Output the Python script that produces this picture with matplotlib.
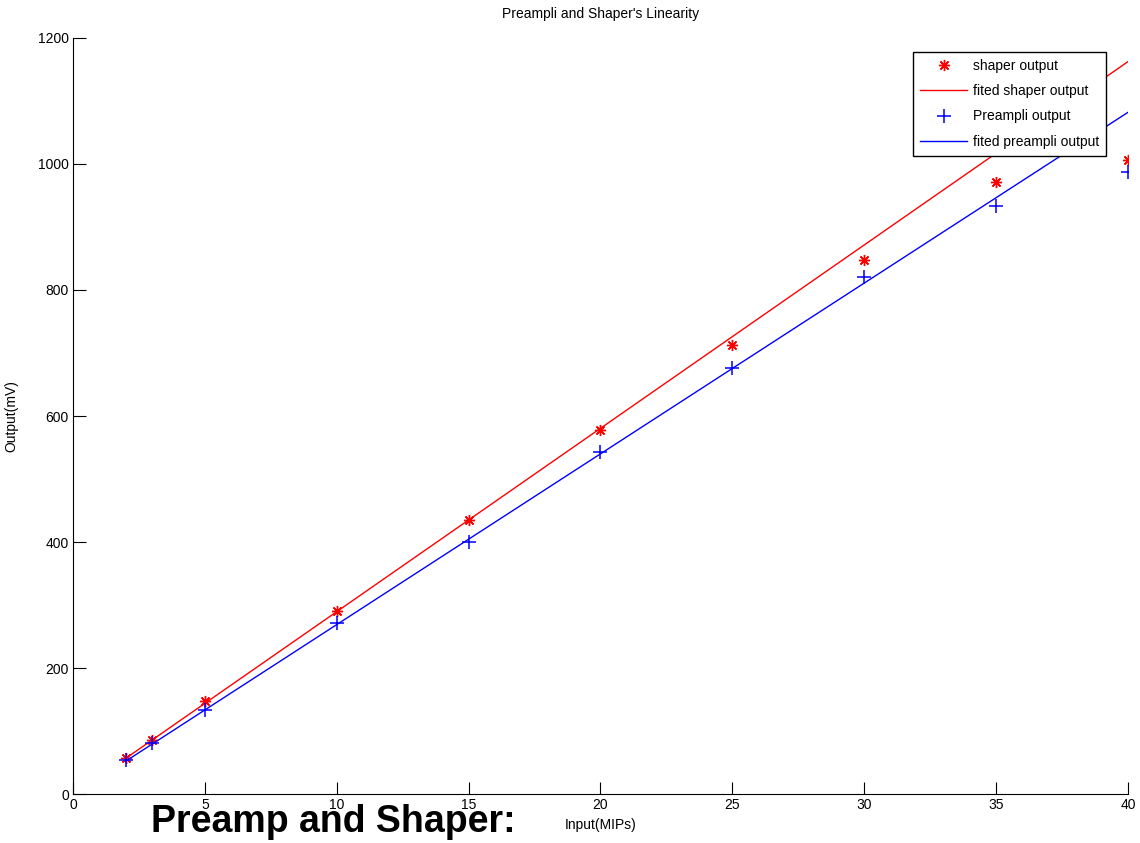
import numpy as np
import matplotlib
matplotlib.use("Agg")
import matplotlib.pyplot as plt

plt.rcParams['font.family'] = ['Liberation Sans', 'DejaVu Sans']

# measured points (Input in MIPs, Output in mV)
input_mips = [2, 3, 5, 10, 15, 20, 25, 30, 35, 40]
shaper_out = [58, 86, 147, 291, 435, 578, 712, 848, 971, 1007]
preampli_out = [54, 81, 133, 272, 400, 543, 676, 820, 933, 988]

# fitted line coefficients (slope, intercept)
shaper_fit = (29.1, -1.5)
preampli_fit = (27.1, -2.0)

fig = plt.figure(figsize=(11.4, 8.43), dpi=100)
ax = fig.add_axes([0.064, 0.058, 0.9255, 0.897])

x_fit = np.array([input_mips[0], input_mips[-1]])
ax.plot(input_mips, shaper_out, linestyle='none', marker=(8, 2, 0), color='red',
        markersize=8, markeredgewidth=1.0, label='shaper output')
ax.plot(x_fit, shaper_fit[0] * x_fit + shaper_fit[1], color='red', lw=1,
        label='fited shaper output')
ax.plot(input_mips, preampli_out, linestyle='none', marker='+', color='blue',
        markersize=10, markeredgewidth=1.1, label='Preampli output')
ax.plot(x_fit, preampli_fit[0] * x_fit + preampli_fit[1], color='blue', lw=1,
        label='fited preampli output')

ax.set_xlim(0, 40)
ax.set_ylim(0, 1200)
ax.set_xticks(range(0, 41, 5))
ax.set_yticks(range(0, 1201, 200))
ax.tick_params(direction='in', length=9, labelsize=10, pad=3)
ax.spines['top'].set_visible(False)
ax.spines['right'].set_visible(False)

ax.set_title("Preampli and Shaper's Linearity", fontsize=10, pad=14)
ax.set_xlabel('Input(MIPs)', fontsize=10, labelpad=4)
ax.set_ylabel('Output(mV)', fontsize=10, labelpad=14)

leg = ax.legend(loc='upper right', bbox_to_anchor=(0.979, 0.981), fontsize=10,
                fancybox=False, framealpha=1, edgecolor='black',
                borderpad=0.5, labelspacing=0.8, handlelength=3.4,
                handletextpad=0.4, borderaxespad=0)
leg.get_frame().set_linewidth(1)

fig.text(0.292, 0.025, 'Preamp and Shaper:', family='Liberation Sans',
         fontsize=27, fontweight='bold', ha='center', va='center')

fig.savefig('out.png', dpi=100)
